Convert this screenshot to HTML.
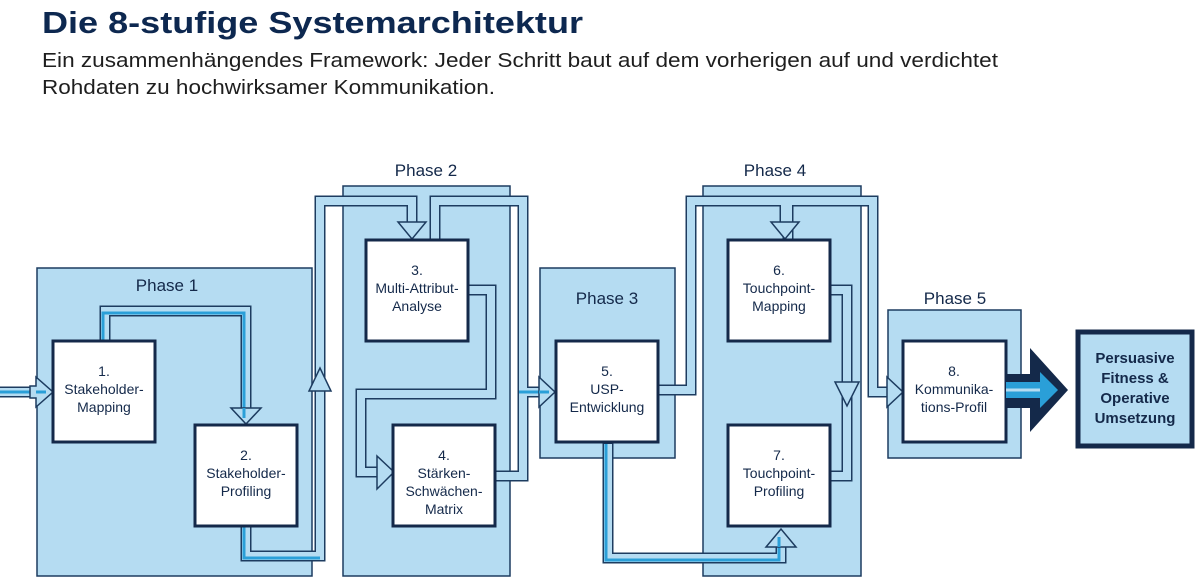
<!DOCTYPE html>
<html><head><meta charset="utf-8"><style>
html,body{margin:0;padding:0;background:#fff;}
svg{display:block;}
text{font-family:"Liberation Sans",Arial,sans-serif;}
</style></head><body>
<svg width="1200" height="581" viewBox="0 0 1200 581" xmlns="http://www.w3.org/2000/svg">
<rect width="1200" height="581" fill="#fff"/>
<text x="42" y="33" font-size="31" font-weight="bold" fill="#0d2850" textLength="541" lengthAdjust="spacingAndGlyphs">Die 8-stufige Systemarchitektur</text>
<text x="42" y="67" font-size="20" fill="#1e1e1e" textLength="956" lengthAdjust="spacingAndGlyphs">Ein zusammenhängendes Framework: Jeder Schritt baut auf dem vorherigen auf und verdichtet</text>
<text x="42" y="94" font-size="20" fill="#1e1e1e" textLength="453" lengthAdjust="spacingAndGlyphs">Rohdaten zu hochwirksamer Kommunikation.</text>

<g fill="#b5dcf2" stroke="#1d3c60" stroke-width="1.5">
<rect x="37" y="268" width="275" height="308"/>
<rect x="343" y="186" width="167" height="390"/>
<rect x="540" y="268" width="135" height="190"/>
<rect x="703" y="186" width="158" height="390"/>
<rect x="888" y="310" width="133" height="148"/>
</g>
<g font-size="17" fill="#14294a" text-anchor="middle">
<text x="167" y="291">Phase 1</text>
<text x="426" y="176">Phase 2</text>
<text x="607" y="304">Phase 3</text>
<text x="775" y="176">Phase 4</text>
<text x="955" y="304">Phase 5</text>
</g>

<!-- connector shafts -->
<g fill="none" stroke-linejoin="miter" stroke-linecap="butt">
<g stroke="#1d3c60" stroke-width="11">
<polyline points="0,392 40,392"/>
<polyline points="105,340 105,311 246,311 246,410"/>
<polyline points="246,527 246,556 320,556 320,201 412,201 412,224"/>
<polyline points="435,240 435,201 523,201 523,476 496,476"/>
<polyline points="468,290 491,290 491,394 361,394 361,472 380,472"/>
<polyline points="519,392 543,392"/>
<polyline points="658,390 691,390 691,201 785,201 785,224"/>
<polyline points="788,240 788,201 873,201 873,392 890,392"/>
<polyline points="830,290 847,290 847,476 830,476"/>
<polyline points="608,442 608,558 781,558 781,545"/>
</g>
<g stroke="#b5dcf2" stroke-width="8">
<polyline points="0,392 40,392"/>
<polyline points="105,342 105,311 246,311 246,410"/>
<polyline points="246,525 246,556 320,556 320,201 412,201 412,224"/>
<polyline points="435,242 435,201 523,201 523,476 494,476"/>
<polyline points="466,290 491,290 491,394 361,394 361,472 380,472"/>
<polyline points="519,392 543,392"/>
<polyline points="656,390 691,390 691,201 785,201 785,224"/>
<polyline points="788,242 788,201 873,201 873,392 890,392"/>
<polyline points="828,290 847,290 847,476 828,476"/>
<polyline points="608,444 608,558 781,558 781,545"/>
</g>
<g stroke="#2a9fd8" stroke-width="3">
<polyline points="0,392 40,392"/>
<polyline points="103,342 103,313 244,313 244,410"/>
<polyline points="244,527 244,558 320,558"/>
<polyline points="519,392 543,392"/>
<polyline points="606,444 606,560 779,560 779,545"/>
</g>
</g>

<!-- arrowheads -->
<g fill="#b5dcf2" stroke="#1d3c60" stroke-width="1.5" stroke-linejoin="miter">
<polygon points="36,377 53,392 36,407 36,398 30,398 30,386 36,386"/>
<polygon points="231,408 261,408 246,424"/>
<polygon points="309,391 331,391 320,368"/>
<polygon points="398,222 426,222 412,239"/>
<polygon points="377,456 394,472 377,489"/>
<polygon points="539,377 555,392 539,407"/>
<polygon points="771,222 799,222 785,239"/>
<polygon points="887,377 903,392 887,407"/>
<polygon points="835,382 859,382 847,406"/>
<polygon points="766,547 796,547 781,529"/>
</g>
<g stroke="#2a9fd8" stroke-width="3" fill="none">
<line x1="244" y1="408" x2="244" y2="418"/>
<line x1="539" y1="392" x2="549" y2="392"/>
<line x1="36" y1="392" x2="46" y2="392"/>
<line x1="779" y1="547" x2="779" y2="537"/>
</g>

<!-- nodes -->
<g fill="#fff" stroke="#14294a" stroke-width="3">
<rect x="53" y="341" width="102" height="101"/>
<rect x="195" y="425" width="102" height="101"/>
<rect x="366" y="240" width="102" height="101"/>
<rect x="393" y="425" width="102" height="101"/>
<rect x="556" y="341" width="102" height="101"/>
<rect x="728" y="240" width="102" height="101"/>
<rect x="728" y="425" width="102" height="101"/>
<rect x="903" y="341" width="103" height="101"/>
</g>
<g font-size="14" fill="#14294a" text-anchor="middle">
<text x="104" y="376">1.</text><text x="104" y="394">Stakeholder-</text><text x="104" y="412">Mapping</text>
<text x="246" y="460">2.</text><text x="246" y="478">Stakeholder-</text><text x="246" y="496">Profiling</text>
<text x="417" y="275">3.</text><text x="417" y="293">Multi-Attribut-</text><text x="417" y="311">Analyse</text>
<text x="444" y="460">4.</text><text x="444" y="478">Stärken-</text><text x="444" y="496">Schwächen-</text><text x="444" y="514">Matrix</text>
<text x="607" y="376">5.</text><text x="607" y="394">USP-</text><text x="607" y="412">Entwicklung</text>
<text x="779" y="275">6.</text><text x="779" y="293">Touchpoint-</text><text x="779" y="311">Mapping</text>
<text x="779" y="460">7.</text><text x="779" y="478">Touchpoint-</text><text x="779" y="496">Profiling</text>
<text x="954" y="376">8.</text><text x="954" y="394">Kommunika-</text><text x="954" y="412">tions-Profil</text>
</g>

<!-- big arrow -->
<polygon points="1006,374 1030,374 1030,348 1068,390 1030,432 1030,408 1006,408" fill="#14294a"/>
<polygon points="1006,382 1040,382 1040,372 1058,390 1040,408 1040,398 1006,398" fill="#2a9fd8"/>
<line x1="1006" y1="390" x2="1040" y2="390" stroke="#b5dcf2" stroke-width="3"/>

<!-- final box -->
<rect x="1078" y="332" width="114" height="114" fill="#b5dcf2" stroke="#14294a" stroke-width="5"/>
<g font-size="15" font-weight="bold" fill="#14294a" text-anchor="middle">
<text x="1135" y="363">Persuasive</text>
<text x="1135" y="383">Fitness &amp;</text>
<text x="1135" y="403">Operative</text>
<text x="1135" y="423">Umsetzung</text>
</g>
</svg>
</body></html>
